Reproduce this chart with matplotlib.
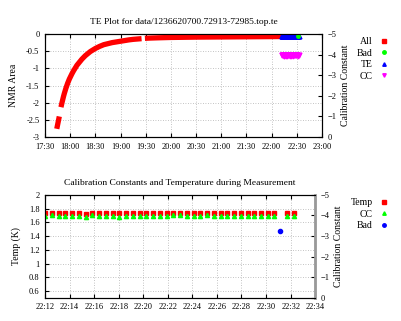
import pandas as pd
import matplotlib
matplotlib.use('Agg')
import matplotlib.pyplot as plt
import matplotlib.dates as mdates
import numpy as np

plt.rcParams['font.family'] = ['Liberation Serif', 'DejaVu Serif']

day = '2009-03-09 '

# top panel: NMR area vs time (NaN marks the breaks in the trace)
all_times = ['17:44', '17:45', '17:46', '17:47', '17:48', '17:49', '17:50', '17:51',
             '17:52', '17:53', '17:54', '17:55', '17:56', '17:57', '17:58', '17:59',
             '18:00', '18:02', '18:04', '18:06', '18:08', '18:10', '18:12', '18:14',
             '18:16', '18:18', '18:20', '18:22', '18:24', '18:26', '18:28', '18:30',
             '18:35', '18:40', '18:45', '18:50', '18:55', '19:00', '19:05', '19:10',
             '19:15', '19:20', '19:25', '19:27', '19:29', '19:35', '19:45', '20:00',
             '20:30', '21:00', '21:30', '22:00', '22:30']
all_area = [-2.76, -2.64, -2.52, -2.40, np.nan, -2.13, -2.02, -1.92,
            -1.82, -1.73, -1.65, -1.57, -1.50, -1.43, -1.37, -1.31,
            -1.26, -1.16, -1.07, -0.99, -0.91, -0.85, -0.79, -0.73,
            -0.68, -0.63, -0.59, -0.55, -0.51, -0.48, -0.45, -0.42,
            -0.36, -0.31, -0.28, -0.25, -0.23, -0.21, -0.19, -0.17,
            -0.155, -0.145, -0.135, np.nan, -0.125, -0.118, -0.11, -0.10,
            -0.09, -0.085, -0.08, -0.075, -0.07]

# bottom panel: measurement points
meas_times = ['22:12:00', '22:12:33', '22:13:06', '22:13:39', '22:14:12', '22:14:45',
              '22:15:18', '22:15:51', '22:16:24', '22:16:57', '22:17:30', '22:18:03',
              '22:18:36', '22:19:09', '22:19:42', '22:20:15', '22:20:48', '22:21:21',
              '22:21:54', '22:22:27', '22:23:00', '22:23:33', '22:24:06', '22:24:39',
              '22:25:12', '22:25:45', '22:26:18', '22:26:51', '22:27:24', '22:27:57',
              '22:28:30', '22:29:03', '22:29:36', '22:30:09', '22:30:40', '22:31:40',
              '22:32:15']
temp = [1.729, 1.729, 1.733, 1.739, 1.733, 1.729, 1.720, 1.729, 1.729, 1.733,
        1.743, 1.739, 1.733, 1.729, 1.733, 1.733, 1.739, 1.743, 1.743, 1.733,
        1.733, 1.729, 1.729, 1.733, 1.743, 1.739, 1.733, 1.733, 1.729, 1.729,
        1.733, 1.739, 1.739, 1.733, 1.733, 1.729, 1.733]
cc = [-3.99, -4.00, -3.96, -3.97, -3.98, -3.95, -3.94, -4.00, -3.97, -3.97,
      -3.95, -3.94, -3.97, -3.96, -3.98, -3.97, -3.96, -3.97, -3.95, -4.00,
      -4.00, -3.95, -3.96, -3.97, -4.00, -3.95, -3.97, -3.98, -3.96, -3.97,
      -3.97, -3.96, -3.97, -3.97, -3.98, -3.95, -3.96]
te_area = [-0.055] * len(meas_times)
bad_time = ['22:31:08']
bad_area = [-0.07]
bad_temp = [1.475]

def to_dt(lst):
    return pd.to_datetime([day + t for t in lst])

t_all = to_dt(all_times)
t_meas = to_dt(meas_times)
t_bad = to_dt(bad_time)

fig = plt.figure(figsize=(4.02, 3.21), dpi=100)

def style(ax, ax2):
    ax.tick_params(direction='in', labelsize=6, length=3, top=True, pad=4)
    ax2.tick_params(direction='in', labelsize=6, length=3, pad=4)
    ax.grid(color='#b0b0b0', linestyle=(0, (1, 2)), linewidth=0.6)
    for s in ax.spines.values():
        s.set_linewidth(0.8)

# ---- top
ax = fig.add_axes([0.112, 0.573, 0.689, 0.321])
ax2 = ax.twinx()
ax.plot(t_all, all_area, color='red', lw=3.8, solid_capstyle='butt', zorder=3)
ax.plot(t_meas, te_area, '^', color='blue', ms=3.5, zorder=4)
ax.plot(t_bad, bad_area, 'o', color='#00ff00', ms=2.5, zorder=4)
ax2.plot(t_meas, cc, 'v', color='magenta', ms=3.5)
ax.set_ylim(-3, 0)
ax.set_yticks([0, -0.5, -1, -1.5, -2, -2.5, -3])
ax.set_yticklabels(['0', '-0.5', '-1', '-1.5', '-2', '-2.5', '-3'])
ax2.set_ylim(0, -5)
ax2.set_yticks([-5, -4, -3, -2, -1, 0])
ax.set_xlim(pd.Timestamp(day + '17:30'), pd.Timestamp(day + '23:00'))
ax.xaxis.set_major_locator(mdates.MinuteLocator(byminute=[0, 30]))
ax.xaxis.set_major_formatter(mdates.DateFormatter('%H:%M'))
ax.set_ylabel('NMR Area', fontsize=7, labelpad=6)
ax2.set_ylabel('Calibration Constant', fontsize=7, labelpad=3)
ax.set_title('TE Plot for data/1236620700.72913-72985.top.te', fontsize=6.8, pad=7)
style(ax, ax2)

h = [plt.Line2D([], [], ls='', marker='s', color='red', ms=2.5),
     plt.Line2D([], [], ls='', marker='o', color='#00ff00', ms=2.5),
     plt.Line2D([], [], ls='', marker='^', color='blue', ms=2.5),
     plt.Line2D([], [], ls='', marker='v', color='magenta', ms=2.5)]
fig.legend(h, ['All', 'Bad', 'TE', 'CC'], markerfirst=False, frameon=False,
           loc='upper right', bbox_to_anchor=(0.985, 0.905), fontsize=7,
           handlelength=1.0, handletextpad=0.7, labelspacing=0.25,
           borderpad=0.2)

# ---- bottom
bx = fig.add_axes([0.112, 0.072, 0.672, 0.321])
bx2 = bx.twinx()
bx.plot(t_meas, temp, 's', color='red', ms=3.4, zorder=3)
bx.plot(t_bad, bad_temp, 'o', color='blue', ms=3, zorder=3)
bx2.plot(t_meas, cc, '^', color='#00ff00', ms=3.0)
bx.set_ylim(0.5, 2)
bx.set_yticks([0.6, 0.8, 1, 1.2, 1.4, 1.6, 1.8, 2])
bx.set_yticklabels(['0.6', '0.8', '1', '1.2', '1.4', '1.6', '1.8', '2'])
bx2.set_ylim(0, -5)
bx2.set_yticks([-5, -4, -3, -2, -1, 0])
bx.set_xlim(pd.Timestamp(day + '22:12'), pd.Timestamp(day + '22:34'))
bx.xaxis.set_major_locator(mdates.MinuteLocator(byminute=range(0, 60, 2)))
bx.xaxis.set_major_formatter(mdates.DateFormatter('%H:%M'))
bx.set_ylabel('Temp (K)', fontsize=7, labelpad=6)
bx2.set_ylabel('Calibration Constant', fontsize=7, labelpad=3)
bx.set_title('Calibration Constants and Temperature during Measurement', fontsize=6.8, pad=7)
style(bx, bx2)
bx2.spines['right'].set_color('#999999')
bx2.spines['right'].set_linewidth(2)

h2 = [plt.Line2D([], [], ls='', marker='s', color='red', ms=2.5),
      plt.Line2D([], [], ls='', marker='^', color='#00ff00', ms=2.5),
      plt.Line2D([], [], ls='', marker='o', color='blue', ms=2.5)]
fig.legend(h2, ['Temp', 'CC', 'Bad'], markerfirst=False, frameon=False,
           loc='upper right', bbox_to_anchor=(0.985, 0.403), fontsize=7,
           handlelength=1.0, handletextpad=0.7, labelspacing=0.25,
           borderpad=0.2)

fig.savefig('out.png', dpi=100)
